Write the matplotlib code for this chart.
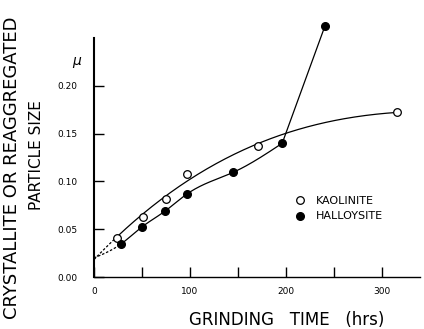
import numpy as np
import matplotlib
matplotlib.use('Agg')
import matplotlib.pyplot as plt

# grinding time (hrs) and particle size (micron)
kao_t = [23.6, 51, 74.7, 96.5, 170.5, 316]
kao_s = [0.041, 0.0625, 0.082, 0.1075, 0.1375, 0.1725]
hal_t = [28, 50.3, 74, 97, 145, 196, 240.6]
hal_s = [0.0345, 0.0527, 0.069, 0.087, 0.1096, 0.140, 0.263]
start_t, start_s = 0, 0.02   # common starting point of both curves

x_ticks = [0, 100, 200, 300]
y_ticks = [0.00, 0.05, 0.10, 0.15, 0.20]


def natural_spline(xk, yk, xs):
    xk = np.asarray(xk, float); yk = np.asarray(yk, float)
    n = len(xk); h = np.diff(xk)
    A = np.zeros((n, n)); b = np.zeros(n)
    A[0, 0] = A[-1, -1] = 1
    for i in range(1, n - 1):
        A[i, i - 1] = h[i - 1]
        A[i, i] = 2 * (h[i - 1] + h[i])
        A[i, i + 1] = h[i]
        b[i] = 3 * ((yk[i + 1] - yk[i]) / h[i] - (yk[i] - yk[i - 1]) / h[i - 1])
    c = np.linalg.solve(A, b)
    out = np.empty_like(xs)
    for j, x in enumerate(xs):
        i = min(max(np.searchsorted(xk, x) - 1, 0), n - 2)
        dx = x - xk[i]
        bi = (yk[i + 1] - yk[i]) / h[i] - h[i] * (2 * c[i] + c[i + 1]) / 3
        di = (c[i + 1] - c[i]) / (3 * h[i])
        out[j] = yk[i] + bi * dx + c[i] * dx ** 2 + di * dx ** 3
    return out


fig = plt.figure(figsize=(4.24, 3.29), dpi=100)
ax = fig.add_axes([0.2217, 0.158, 0.77, 0.784])

# kaolinite: smooth fitted curve
kx = [start_t] + kao_t
ky = [start_s] + kao_s
p = np.polyfit(kx, ky, 3)
xs = np.linspace(start_t, kao_t[-1], 200)
ys = np.polyval(p, xs)
m = xs <= kao_t[0]
ax.plot(xs[m], ys[m], 'k--', lw=0.9, dashes=(2, 1.5))
ax.plot(xs[~m], ys[~m], 'k-', lw=0.9)

# halloysite: spline up to 196 hrs, then straight to the last point
hx = [start_t] + hal_t[:-1]
hy = [start_s] + hal_s[:-1]
xs2 = np.linspace(start_t, hal_t[-2], 200)
ys2 = natural_spline(hx, hy, xs2)
m2 = xs2 <= hal_t[0]
ax.plot(xs2[m2], ys2[m2], 'k--', lw=0.9, dashes=(2, 1.5))
ax.plot(xs2[~m2], ys2[~m2], 'k-', lw=0.9)
ax.plot(hal_t[-2:], hal_s[-2:], 'k-', lw=0.9)

ax.plot(kao_t, kao_s, 'o', mfc='white', mec='black', mew=0.9, ms=5.5,
        label='KAOLINITE', zorder=3)
ax.plot(hal_t, hal_s, 'o', mfc='black', mec='black', ms=5.5,
        label='HALLOYSITE', zorder=3)

ax.set_xlim(0, 340)
ax.set_ylim(0, 0.27)
ax.spines['top'].set_visible(False)
ax.spines['right'].set_visible(False)
ax.spines['left'].set_bounds(0, 0.25)
ax.spines['left'].set_linewidth(1.5)
ax.spines['bottom'].set_linewidth(1.0)

ax.set_xticks(x_ticks)
ax.set_xticklabels([str(v) for v in x_ticks])
ax.set_xticks([50, 150, 250], minor=True)
ax.set_yticks(y_ticks)
ax.set_yticklabels(['%.2f' % v for v in y_ticks])
ax.tick_params(axis='both', which='both', direction='in', length=7, width=1)
ax.tick_params(axis='y', labelsize=6.5, pad=12)
ax.tick_params(axis='x', labelsize=6.5, pad=7)

ax.text(-18, 0.225, r'$\mu$', fontsize=10, ha='center', va='center')

ax.legend(loc='center left', bbox_to_anchor=(0.6, 0.265), frameon=False,
          fontsize=8, handlelength=1.0, handletextpad=0.9, labelspacing=0.5,
          borderaxespad=0)

fig.text(0.028, 0.49, 'CRYSTALLITE OR REAGGREGATED', rotation=90,
         fontsize=13, ha='center', va='center')
fig.text(0.087, 0.529, 'PARTICLE SIZE', rotation=90,
         fontsize=11, ha='center', va='center')
fig.text(0.677, 0.027, 'GRINDING   TIME   (hrs)', fontsize=12,
         ha='center', va='center')

fig.savefig('out.png', dpi=100)
